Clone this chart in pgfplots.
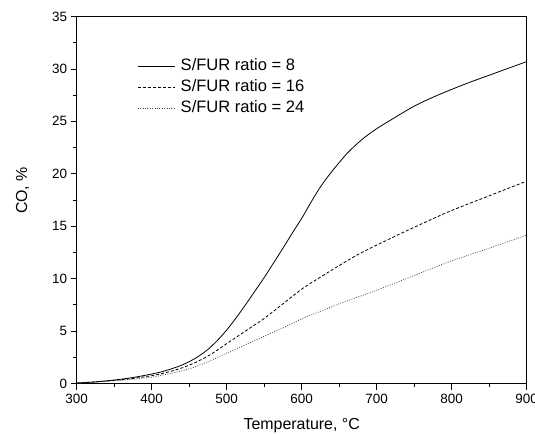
\documentclass[border=0pt]{standalone}
\usepackage{fontspec}
\setmainfont{Liberation Sans}
\usepackage{pgfplots}
\pgfplotsset{compat=1.18}
\begin{document}
\begin{tikzpicture}
\begin{axis}[
  width=450bp, height=367bp, scale only axis,
  xmin=300, xmax=900, ymin=0, ymax=35,
  xtick={300,400,...,900}, ytick={0,5,...,35},
  minor x tick num=1, minor y tick num=1,
  tick pos=left, tick align=outside,
  major tick length=6bp, minor tick length=3.3bp,
  every tick/.style={black, line width=0.8bp},
  axis line style={line width=0.8bp},
  /pgf/number format/assume math mode=true,
  ticklabel style={font=\fontsize{13.5}{16}\selectfont},
  xticklabel style={yshift=-1.5bp},
  xlabel={Temperature, °C}, ylabel={CO, \%},
  label style={font=\fontsize{16}{19}\selectfont},
  xlabel style={at={(axis description cs:0.5,-0.1267)}, anchor=base},
  ylabel style={at={(axis description cs:-0.1104,0.526)}, anchor=base, rotate=0},
  legend cell align=left,
  legend image code/.code={\draw[#1] (0bp,0bp) -- (37bp,0bp);},
  legend style={draw=none, fill=none, font=\fontsize{16.6}{19}\selectfont,
    at={(axis description cs:0.1345,0.886),}, anchor=north west,
    row sep=6bp, column sep=5.5bp, inner sep=0pt,
    nodes={inner sep=0pt, text height=11.8bp, text depth=3.2bp}},
]
\addplot[black, line width=0.8bp, smooth] coordinates {
(300,0.05) (325,0.15) (350,0.33) (375,0.57) (400,0.9) (412.5,1.1) (425,1.37) (437.5,1.68)
(450,2.08) (462.5,2.6) (475,3.25) (487.5,4.1) (500,5.1) (512.5,6.25) (525,7.5) (537.5,8.8)
(550,10.1) (562.5,11.5) (575,12.9) (587.5,14.35) (600,15.75) (612.5,17.3) (625,18.75)
(640,20.2) (660,21.9) (680,23.25) (700,24.3) (725,25.4) (750,26.45) (775,27.3) (800,28.05)
(825,28.75) (850,29.4) (875,30.05) (900,30.7)};
\addlegendentry{S/FUR ratio = 8}
\addplot[black, line width=0.8bp, dash pattern=on 3bp off 2bp, smooth] coordinates {
(300,0.03) (350,0.3) (375,0.48) (400,0.75) (412.5,0.93) (425,1.15) (437.5,1.42) (450,1.75)
(462.5,2.15) (475,2.62) (487.5,3.18) (500,3.8) (512.5,4.4) (525,5.0) (537.5,5.6) (550,6.2)
(575,7.6) (600,9.0) (625,10.15) (650,11.25) (675,12.3) (700,13.2) (750,14.9) (800,16.5)
(850,17.9) (900,19.3)};
\addlegendentry{S/FUR ratio = 16}
\addplot[black!75, line width=0.7bp, dash pattern=on 0.9bp off 1.5bp, smooth] coordinates {
(300,0.02) (350,0.25) (375,0.4) (400,0.6) (412.5,0.77) (425,0.95) (437.5,1.16) (450,1.4)
(462.5,1.72) (475,2.08) (487.5,2.48) (500,2.9) (525,3.7) (550,4.5)
(575,5.3) (600,6.15) (650,7.6) (700,8.9) (750,10.3) (800,11.7) (850,12.9) (900,14.15)};
\addlegendentry{S/FUR ratio = 24}
\end{axis}
\pgfresetboundingbox
\path[use as bounding box] ([shift={(-76.7bp,-50.5bp)}]current axis.south west) rectangle ([shift={(8.3bp,16.5bp)}]current axis.north east);
\end{tikzpicture}
\end{document}
